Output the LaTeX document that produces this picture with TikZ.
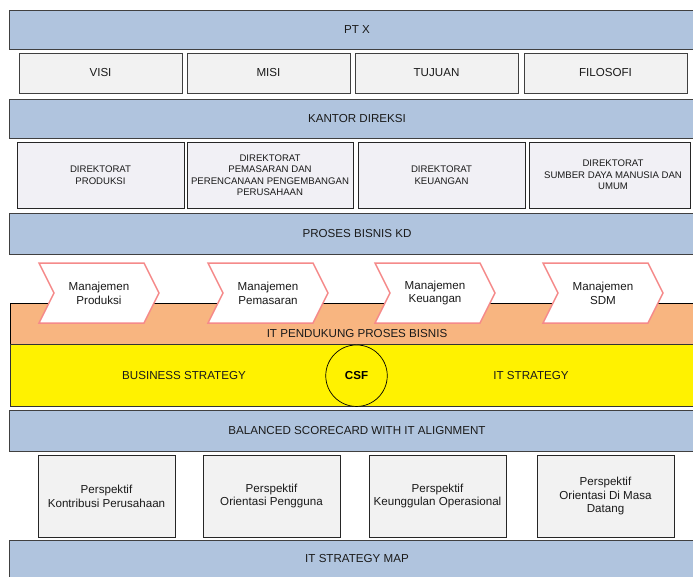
\documentclass[tikz,border=0pt]{standalone}
\usepackage{fontspec}
\setmainfont{Liberation Sans}
\definecolor{barblue}{HTML}{B0C4DE}
\definecolor{boxgray}{HTML}{F2F2F2}
\definecolor{dirgray}{HTML}{F1F0F5}
\definecolor{edgegray}{HTML}{404040}
\definecolor{bandorange}{HTML}{F8B580}
\definecolor{chevred}{HTML}{F58A8A}
\definecolor{txt}{HTML}{1A1A1A}
\begin{document}
\begin{tikzpicture}[x=1pt,y=-1pt,
  mainfont/.style={font=\fontsize{11.6}{13.8}\selectfont, text=txt},
  bar/.style={draw=edgegray, fill=barblue, line width=1pt, minimum width=696pt,
    minimum height=#1, inner sep=0pt, mainfont},
  topbox/.style={draw=edgegray, fill=boxgray, line width=0.8pt, minimum width=163pt,
    minimum height=40pt, inner sep=0pt, mainfont},
  dirbox/.style={draw=black!85, fill=dirgray, line width=0.8pt, minimum width=#1,
    minimum height=66pt, inner sep=0pt, align=center,
    font=\fontsize{9.6}{11.5}\selectfont, text=txt},
  perbox/.style={draw=black!85, fill=boxgray, line width=0.8pt, minimum width=137pt,
    minimum height=82pt, inner sep=0pt, align=center, mainfont},
  chevshape/.style={draw=chevred, fill=white, line width=1.5pt, line join=miter},
  chevtext/.style={align=center, inner sep=0pt, mainfont},
  plaintext/.style={inner sep=0pt, mainfont}
]
\useasboundingbox (0,0) rectangle (693,576);
\fill[white] (0,0) rectangle (693,576);

% PT X
\node[bar=39pt] (ptx) at (357,29.5) {PT X};
\node[topbox] (visi) at (100.5,73) {VISI};
\node[topbox] (misi) at (268.5,73) {MISI};
\node[topbox] (tujuan) at (436.5,73) {TUJUAN};
\node[topbox] (filosofi) at (605.5,73) {FILOSOFI};

% Kantor Direksi
\node[bar=39pt] (kantor) at (357,118.5) {KANTOR DIREKSI};
\node[dirbox=167pt] (dir1) at (100.5,175) {DIREKTORAT\\PRODUKSI};
\node[dirbox=166pt] (dir2) at (270,175) {DIREKTORAT\\PEMASARAN DAN\\PERENCANAAN PENGEMBANGAN\\PERUSAHAAN};
\node[dirbox=167pt] (dir3) at (441.5,175) {DIREKTORAT\\KEUANGAN};
\node[dirbox=161pt] (dir4) at (609.5,175) {\hspace*{7pt}DIREKTORAT\\\hspace*{7pt}SUMBER DAYA MANUSIA DAN\\\hspace*{7pt}UMUM};

% Proses bisnis
\node[bar=41pt] (proses) at (357,233.5) {PROSES BISNIS KD};

% IT pendukung band
\fill[bandorange] (10,303) rectangle (706,344);
\draw[black, line width=0.8pt] (706,303) -- (10,303) -- (10,344);
\node[plaintext] (itpend) at (357,333.5) {IT PENDUKUNG PROSES BISNIS};

% Chevrons
\foreach \x/\n/\t in {39/m1/{Manajemen\\Produksi},208/m2/{Manajemen\\Pemasaran},375/m3/{Manajemen\\Keuangan},543/m4/{Manajemen\\SDM}}{
  \draw[chevshape] (\x,263) -- (\x+105,263) -- (\x+120,293) -- (\x+105,323)
    -- (\x,323) -- (\x+15,293) -- cycle;
  \node[chevtext] (\n) at (\x+60,293) {\t};
}

% Strategy band
\draw[fill=yellow, draw=black!80, line width=0.8pt] (10,344) rectangle (706,406);
\node[plaintext] (bs) at (184,375.5) {BUSINESS STRATEGY};
\node[plaintext] (its) at (531,375.5) {IT STRATEGY};
\node[circle, draw=black, fill=yellow, line width=0.7pt, minimum size=61.5pt,
  inner sep=0pt, font=\fontsize{11.6}{13.8}\selectfont\bfseries] (csf) at (356.5,375.7) {CSF};

% Balanced scorecard
\node[bar=41pt] (bsc) at (357,430.5) {BALANCED SCORECARD WITH IT ALIGNMENT};
\node[perbox] (p1) at (106.5,496) {Perspektif\\Kontribusi Perusahaan};
\node[perbox] (p2) at (271.5,496) {Perspektif\\Orientasi Pengguna};
\node[perbox] (p3) at (437.5,496) {Perspektif\\Keunggulan Operasional};
\node[perbox] (p4) at (605.5,496) {Perspektif\\Orientasi Di Masa\\Datang};

% IT strategy map
\node[bar=37pt] (itmap) at (357,558.5) {IT STRATEGY MAP};
\end{tikzpicture}
\end{document}
